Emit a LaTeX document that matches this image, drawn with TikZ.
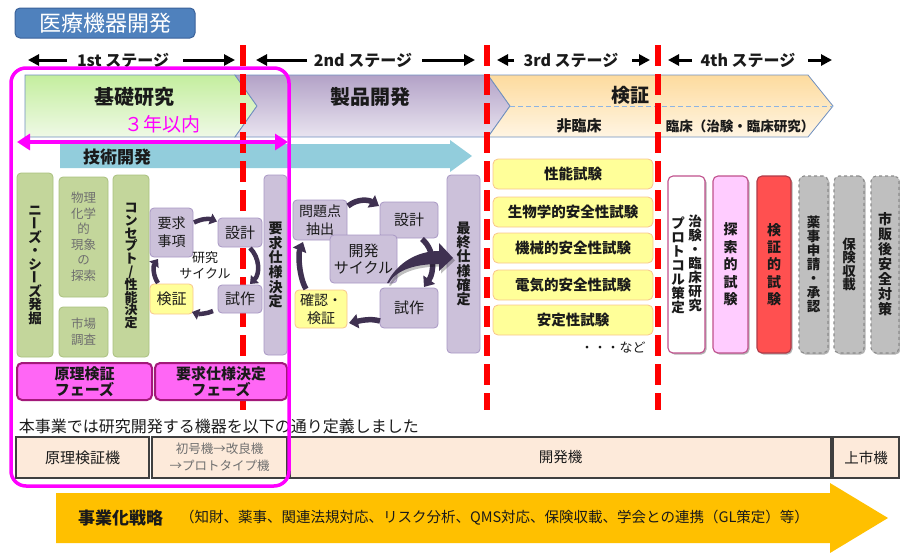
\documentclass[tikz,border=0pt]{standalone}
\usepackage{fontspec}
\setmainfont{Noto Sans CJK JP}
\usepackage{graphicx}
\usetikzlibrary{arrows.meta,calc,shadows}
\newcommand\fsz[2]{\fontsize{#1}{#2}\selectfont}
\newcommand\VL{\rotatebox[origin=c]{-90}{\rule[-0.12em]{0pt}{1em}ー}}
\lineskiplimit=-20pt
\definecolor{txt}{HTML}{1A1A1A}
\definecolor{titlef}{HTML}{4F81BD}
\definecolor{titleb}{HTML}{3A6199}
\definecolor{gA}{HTML}{C4EE9E}
\definecolor{gB}{HTML}{EFF9E6}
\definecolor{pA}{HTML}{B3A2C7}
\definecolor{pB}{HTML}{E9E4F0}
\definecolor{oA}{HTML}{FDDB9E}
\definecolor{oB}{HTML}{FFF5E3}
\definecolor{bandb}{HTML}{6F8FBF}
\definecolor{techc}{HTML}{92CDDC}
\definecolor{mag}{HTML}{FF00FF}
\definecolor{pfill}{HTML}{CCC1DA}
\definecolor{pdraw}{HTML}{A897C4}
\definecolor{gfill}{HTML}{C3D69B}
\definecolor{gdraw}{HTML}{A9C07E}
\definecolor{yfill}{HTML}{FFFF99}
\definecolor{ydraw}{HTML}{F8C58C}
\definecolor{cyc}{HTML}{3F3151}
\definecolor{phasef}{HTML}{FF66F5}
\definecolor{phased}{HTML}{A3197A}
\definecolor{pinkd}{HTML}{C0508C}
\definecolor{pinkf}{HTML}{FFCCFF}
\definecolor{redf}{HTML}{FF5050}
\definecolor{redd}{HTML}{B03A48}
\definecolor{grayf}{HTML}{BFBFBF}
\definecolor{grayd}{HTML}{8C8C8C}
\definecolor{rowf}{HTML}{FDEADA}
\definecolor{rowd}{HTML}{3F3F3F}
\definecolor{gold}{HTML}{FFC000}
\definecolor{graytxt}{HTML}{6F6F6F}
\definecolor{hdash}{HTML}{8DB3E2}
\begin{document}
\begin{tikzpicture}[x=1pt,y=-1pt,
  every node/.style={inner sep=0pt,outer sep=0pt,text=txt},
  box/.style={rounded corners=4pt,line width=0.8pt,align=center},
  pbox/.style={box,draw=pdraw,fill=pfill},
  gbox/.style={box,draw=gdraw,fill=gfill},
  ybox/.style={box,draw=ydraw,fill=yfill},
  phase/.style={box,rounded corners=5pt,draw=phased,fill=phasef,line width=2pt,font=\fsz{15}{16.5}\bfseries},
  vbox/.style={box,rounded corners=5pt,line width=1.1pt,minimum height=177pt,
    drop shadow={shadow xshift=1.5pt,shadow yshift=-1.5pt,opacity=.3,fill=black}},
  vcol/.style={align=center,font=\fsz{13.5}{14}\bfseries},
  rowbox/.style={draw=rowd,fill=rowf,line width=1.3pt,minimum height=41pt,align=center},
  stagearr/.style={line width=3pt,-{Triangle[length=11pt,width=11pt]}},
  reddash/.style={draw=red,line width=6.5pt,dash pattern=on 21pt off 8pt},
  cyca/.style={draw=cyc,line width=4.5pt,-{Triangle[length=7pt,width=11pt]}},
  cycb/.style={draw=cyc,line width=5.5pt,-{Triangle[length=9pt,width=14pt]}},
  bandtxt/.style={font=\fsz{20}{22}\bfseries}
]
\useasboundingbox (0,0) rectangle (900,552);

% title
\node[fill=titlef,draw=titleb,rounded corners=5pt,line width=1pt,minimum width=180pt,
  minimum height=30pt,text=white,font=\fsz{22}{24}] (title) at (105,23) {医療機器開発};

% stage headers
\node[font=\fsz{16}{18}\bfseries] (s1) at (123,60) {1st ステージ};
\node[font=\fsz{16}{18}\bfseries] (s2) at (363,60) {2nd ステージ};
\node[font=\fsz{16}{18}\bfseries] (s3) at (571,60) {3rd ステージ};
\node[font=\fsz{16}{18}\bfseries] (s4) at (748,60) {4th ステージ};
\draw[stagearr] (67,60) -- (28,60);
\draw[stagearr] (183,60) -- (235,60);
\draw[stagearr] (307,60) -- (256,60);
\draw[stagearr] (422,60) -- (475,60);
\draw[stagearr] (514,60) -- (497,60);
\draw[stagearr] (632,60) -- (650,60);
\draw[stagearr] (692,60) -- (668,60);
\draw[stagearr] (808,60) -- (832,60);

% bands
\shade[top color=gA,bottom color=gB,draw=bandb,line width=.8pt]
  (25,75) -- (235,75) -- (257,106) -- (235,137) -- (25,137) -- cycle;
\shade[top color=pA,bottom color=pB,draw=bandb,line width=.8pt]
  (235,75) -- (488,75) -- (510,106) -- (488,137) -- (235,137) -- (257,106) -- cycle;
\shade[top color=oA,bottom color=oB,draw=bandb,line width=.8pt]
  (488,75) -- (808,75) -- (833,106) -- (808,137) -- (488,137) -- (510,106) -- cycle;
\draw[draw=hdash,line width=.9pt,dash pattern=on 5pt off 3pt] (510,106) -- (833,106);
\node[bandtxt] (kiso) at (134,97) {基礎研究};
\node[bandtxt] (seihin) at (370,97) {製品開発};
\node[font=\fsz{19}{20},text=mag] (sannen) at (162,124) {３年以内};
\node[font=\fsz{19}{20}\bfseries] (kensho) at (630,95) {検証};
\node[font=\fsz{15}{16}\bfseries] (hirin) at (579,126) {非臨床};
\node[font=\fsz{13.5}{16}\bfseries] (rinsho) at (740,126) {臨床（治験・臨床研究）};

% technology arrow
\fill[techc] (60,144) -- (450,144) -- (450,140) -- (472,156) -- (450,172) -- (450,168) -- (60,168) -- cycle;
\node[font=\fsz{17}{18}\bfseries] (tech) at (117,157) {技術開発};

% red dividers
\foreach \x in {243,487,658} \draw[reddash] (\x,45) -- (\x,410);

% 1st stage boxes
\node[gbox,minimum width=36pt,minimum height=184pt,font=\fsz{13.5}{13.5}\bfseries] (needs) at (35,265)
  {ニ\\\VL\\ズ\\・\\シ\\\VL\\ズ\\発\\掘};
\node[gbox,minimum width=49pt,minimum height=120pt,font=\fsz{12.5}{15.5},text=graytxt] (buturi) at (83.5,237)
  {物理\\化学\\的\\現象\\の\\探索};
\node[gbox,minimum width=49pt,minimum height=50pt,font=\fsz{12.5}{15.5},text=graytxt] (shijo) at (83.5,332)
  {市場\\調査};
\node[gbox,minimum width=36pt,minimum height=182pt,font=\fsz{13}{12.8}\bfseries] (concept) at (131,266)
  {コ\\ン\\セ\\プ\\ト\\/\\性\\能\\決\\定};
\node[pbox,minimum width=43pt,minimum height=49pt,font=\fsz{14}{18}] (yq) at (171.5,232.5) {要求\\事項};
\node[pbox,minimum width=44pt,minimum height=29pt,font=\fsz{15}{16}] (sk1) at (240,232.5) {設計};
\node[pbox,minimum width=44pt,minimum height=28pt,font=\fsz{15}{16}] (sh1) at (240,299) {試作};
\node[ybox,minimum width=43pt,minimum height=30pt,font=\fsz{15}{16}] (kn1) at (171.5,299) {検証};
\node[font=\fsz{13}{16},align=center] (cyc1) at (205,265.5) {研究\\サイクル};
\node[pbox,minimum width=23pt,minimum height=180pt,font=\fsz{14}{14.7}\bfseries] (yosd) at (275.5,265)
  {要\\求\\仕\\様\\決\\定};
\draw[cyca] ($(yq.east)+(1,-10)$) .. controls +(8,-4) and +(-8,-3) .. ($(sk1.west)+(-1,-11)$);
\draw[cyca] ($(sk1.south)+(10,1)$) .. controls +(10,10) and +(10,-10) .. ($(sh1.north)+(10,-1)$);
\draw[cyca] ($(sh1.south west)+(-5,-2)$) .. controls +(-6,3) and +(6,2) .. ($(kn1.south east)+(-1,-2)$);
\draw[cyca] ($(kn1.north west)+(8,-1)$) .. controls +(-5,-7) and +(-5,7) .. ($(yq.south west)+(8,2)$);
\node[phase,minimum width=135pt,minimum height=37pt] (ph1) at (84.5,381.5) {原理検証\\フェーズ};
\node[phase,minimum width=132pt,minimum height=37pt] (ph2) at (221,381.5) {要求仕様決定\\フェーズ};

% 2nd stage boxes
\node[pbox,minimum width=54pt,minimum height=40pt,font=\fsz{14}{18}] (mondai) at (320,220) {問題点\\抽出};
\node[pbox,minimum width=58pt,minimum height=36pt,font=\fsz{15}{16}] (sk2) at (409,220) {設計};
\node[pbox,minimum width=67pt,minimum height=48pt,font=\fsz{15}{16.5}] (kaihatsu) at (363.5,259) {開発\\サイクル};
\node[pbox,minimum width=58pt,minimum height=40pt,font=\fsz{15}{16}] (sh2) at (409,308) {試作};
\node[ybox,minimum width=52pt,minimum height=38pt,font=\fsz{14}{18.5}] (kakunin) at (321,309) {確認・\\検証};
\node[pbox,minimum width=33pt,minimum height=178pt,font=\fsz{14}{14.2}\bfseries] (saishu) at (463.5,264)
  {最\\終\\仕\\様\\確\\定};
\draw[cycb] ($(mondai.north east)+(1,6)$) .. controls +(10,-8) and +(-10,-6) .. ($(sk2.north west)+(-1,4)$);
\draw[cycb] ($(sk2.south)+(13,1)$) .. controls +(14,12) and +(10,-14) .. ($(sh2.north)+(15,-1)$);
\draw[cycb] ($(sh2.west)+(0,13)$) .. controls +(-10,-3) and +(10,-2) .. ($(kakunin.east)+(2,14)$);
\draw[cycb] ($(kakunin.north west)+(11,-1)$) .. controls +(-7,-12) and +(-5,12) .. ($(mondai.south west)+(10,2)$);
\coordinate (bt) at ($(kaihatsu.south east)+(-10,0)$);
\coordinate (bh) at ($(saishu.west)+(6,-6)$);
\fill[cyc,preaction={fill=black,opacity=.25,transform canvas={xshift=2pt,yshift=-2.5pt}}]
  (bt) .. controls +(10,-20) and +(-22,0) .. ($(bh)+(-14,-7)$) -- ($(bh)+(-14,-15)$) -- (bh)
  -- ($(bh)+(-14,13)$) -- ($(bh)+(-14,6)$) .. controls +(-22,0) and +(8,-14) .. ($(bt)+(2,0)$) -- cycle;

% 3rd stage boxes
\foreach \n/\y/\t in {nc1/174/性能試験,nc2/212/生物学的安全性試験,nc3/248/機械的安全性試験,nc4/285/電気的安全性試験,nc5/320/安定性試験}
  \node[ybox,rounded corners=5pt,minimum width=160pt,minimum height=30pt,font=\fsz{14.5}{16}\bfseries] (\n) at (573,\y) {\t};
\node[font=\fsz{13}{15}] (nado) at (613,348) {・・・など};

% 4th stage boxes
\node[vbox,draw=pinkd,fill=white,minimum width=37pt] (chiken) at (686.5,264.5) {};
\node[vcol] (chikenR) at (695,263) {治\\験\\・\\臨\\床\\研\\究};
\node[vcol] (chikenL) at (678,265) {プ\\ロ\\ト\\コ\\ル\\策\\定};
\node[vbox,draw=pinkd,fill=pinkf,minimum width=35pt,font=\fsz{14}{17.4}\bfseries] (tansaku) at (730.5,264.5)
  {探\\索\\的\\試\\験};
\node[vbox,draw=redd,fill=redf,minimum width=34pt,font=\fsz{14}{17.4}\bfseries] (kenshoT) at (774,264.5)
  {検\\証\\的\\試\\験};
\node[vbox,draw=grayd,fill=grayf,dashed,minimum width=29pt,font=\fsz{13.5}{14}\bfseries] (yakuji) at (813.5,264.5)
  {薬\\事\\申\\請\\・\\承\\認};
\node[vbox,draw=grayd,fill=grayf,dashed,minimum width=30pt,font=\fsz{13.5}{13.5}\bfseries] (hoken) at (849,264.5)
  {保\\険\\収\\載};
\node[vbox,draw=grayd,fill=grayf,dashed,minimum width=28pt,font=\fsz{14}{15}\bfseries] (shihan) at (885,264.5)
  {市\\販\\後\\安\\全\\対\\策};

% bottom rows
\node[anchor=west,font=\fsz{16}{18}] (intro) at (19,426) {本事業では研究開発する機器を以下の通り定義しました};
\node[rowbox,minimum width=133pt,font=\fsz{15}{16}] (r1) at (82.5,457.5) {原理検証機};
\node[rowbox,minimum width=135pt,font=\fsz{12.5}{17},text=graytxt] (r2) at (219.5,457.5) {初号機→改良機\\→プロトタイプ機};
\node[rowbox,minimum width=541pt,font=\fsz{14.5}{16}] (r3) at (560.5,457.5) {開発機};
\node[rowbox,minimum width=66pt,font=\fsz{14.5}{16}] (r4) at (866,457.5) {上市機};
\fill[gold] (56,493) -- (830,493) -- (830,483) -- (888,518) -- (830,553) -- (830,543) -- (56,543) -- cycle;
\node[anchor=west,font=\fsz{17}{18}\bfseries] (jigyo) at (78,518) {事業化戦略};
\node[anchor=west,font=\fsz{14.5}{16}] (jigyod) at (180,518) {（知財、薬事、関連法規対応、リスク分析、QMS対応、保険収載、学会との連携（GL策定）等）};

% magenta frame
\draw[mag,line width=3.5pt,rounded corners=15pt] (11,68) rectangle (289,486);
\draw[mag,line width=3.5pt,{Triangle[length=13pt,width=16pt]}-{Triangle[length=13pt,width=16pt]}] (17,142) -- (288,142);
\end{tikzpicture}
\end{document}
